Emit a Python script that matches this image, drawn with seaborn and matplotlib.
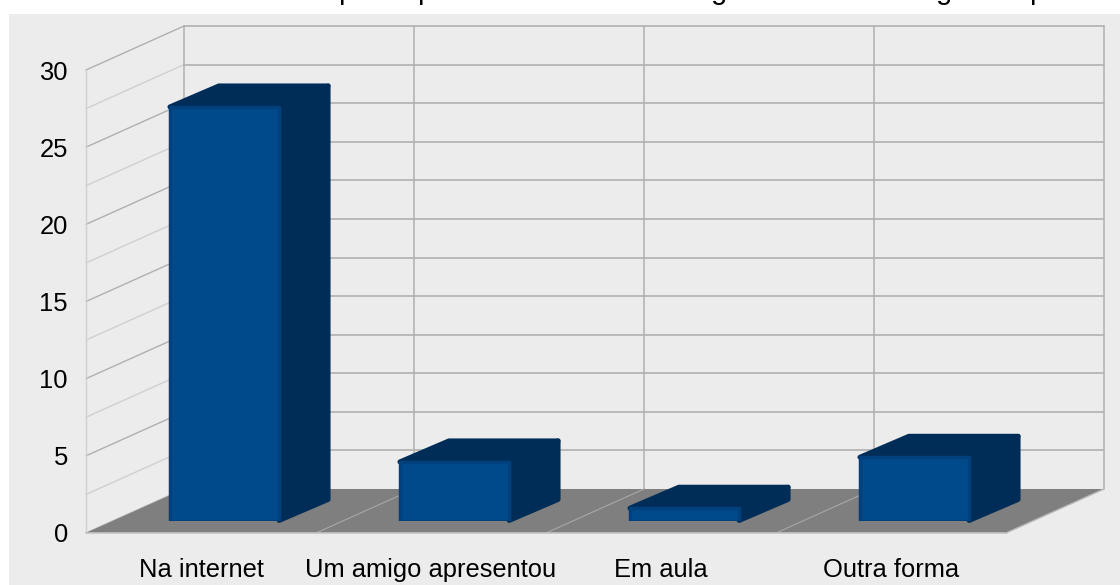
import matplotlib
matplotlib.use('Agg')
import matplotlib.pyplot as plt
from matplotlib.patches import Polygon, Rectangle
import pandas as pd
import seaborn as sns

##################################################################
categories = ['Na internet', 'Um amigo apresentou', 'Em aula', 'Outra forma']
values = [26.8, 3.8, 0.8, 4.1]
tick_values = [0, 5, 10, 15, 20, 25, 30]
grid_values = [0, 2.5, 5, 7.5, 10, 12.5, 15, 17.5, 20, 22.5, 25, 27.5, 30]
title_bits = ['p', 'p', 'g', 'g', 'p']   # only the descenders survive in the reference
title_bits_px = [338, 417, 711, 936, 1029]
##################################################################
W, H = 1120, 585
sns.set_theme(style='white')
plt.rcParams['font.family'] = ['Liberation Sans', 'DejaVu Sans']

front, side, edge = '#004A8C', '#002D58', '#00417D'
panel, floor_c = '#ECECEC', '#7F7F7F'
line_dark, line_light = '#B0B0B0', '#D0D0D0'
fz = 18.4

# front plane of the box, pixels
x0, x1, y0, y1 = 86, 1006, 533, 70
px_x = (x1 - x0)/4.0
px_y = (y0 - y1)/30.0
# depth of box and of the bars, in data units
box_dx, box_dy = 98/px_x, 44/px_y
bar_dx, bar_dy = 49/px_x, 21/px_y
shift_x, shift_y = 23.5, 12.5

fig = plt.figure(figsize=[W/100, H/100], dpi=100, facecolor='white')
fig.patches.append(Rectangle((9/W, 0), (W-9)/W, (H-14)/H, transform=fig.transFigure, fc=panel, ec='none', zorder=-1))

ax = fig.add_axes([x0/W, 1-y0/H, (x1-x0)/W, (y0-y1)/H])
ax.patch.set_visible(False)
ax.set_xlim(-0.5, 3.5)
ax.set_ylim(0, 30)
ax.set_xticks(range(4))
ax.set_xticklabels(categories, fontsize=fz, color='black')
ax.set_yticks(tick_values)
ax.set_yticklabels([str(v) for v in tick_values], fontsize=fz, color='black')
ax.tick_params(axis='both', length=0)
ax.tick_params(axis='x', pad=18)
ax.tick_params(axis='y', pad=13)
sns.despine(ax=ax, left=True, bottom=True)

# floor
L, R = -0.5, 3.5
ax.add_patch(Polygon([(L, 0), (R, 0), (R+box_dx, box_dy), (L+box_dx, box_dy)], fc=floor_c, ec='none', clip_on=False, zorder=1))
for i in range(1, 4):
    ax.plot([L+i, L+i+box_dx], [0, box_dy], color='#A8A8A8', lw=0.8, clip_on=False, zorder=2)
ax.plot([L, R], [0, 0], color='#C4C4C4', lw=1.2, clip_on=False, zorder=2)
ax.plot([R, R+box_dx], [0, box_dy], color='#B8B8B8', lw=1, clip_on=False, zorder=2)

# walls
for n, v in enumerate(grid_values):
    if v > 0:
        ax.plot([L+box_dx, R+box_dx], [v+box_dy, v+box_dy], color=line_dark, lw=1.2, clip_on=False, zorder=0)
    ax.plot([L, L+box_dx], [v, v+box_dy], color=line_dark if n % 2 == 0 else line_light, lw=1.0, clip_on=False, zorder=0)
for i in range(5):
    ax.plot([L+i+box_dx]*2, [box_dy, 30+box_dy], color=line_dark, lw=1.1, clip_on=False, zorder=0)
ax.plot([L, L], [0, 30], color=line_light, lw=1, clip_on=False, zorder=0)

# bars live on their own axes, pushed back into the box
ax_b = fig.add_axes([(x0+shift_x)/W, 1-(y0-shift_y)/H, (x1-x0)/W, (y0-y1)/H])
ax_b.patch.set_visible(False)
df = pd.DataFrame({'cat': categories, 'val': values})
sns.barplot(data=df, x='cat', y='val', ax=ax_b, color=front, saturation=1, width=0.475,
            edgecolor=edge, linewidth=2.5, zorder=3)
ax_b.set_xlim(-0.5, 3.5)
ax_b.set_ylim(0, 30)
ax_b.axis('off')

for bar in list(ax_b.patches):
    bar.set_joinstyle('round')
    l, r, h = bar.get_x(), bar.get_x()+bar.get_width(), bar.get_height()
    top = [(l, h), (r, h), (r+bar_dx, h+bar_dy), (l+bar_dx, h+bar_dy)]
    right = [(r, 0), (r+bar_dx, bar_dy), (r+bar_dx, h+bar_dy), (r, h)]
    for pts in (top, right):
        ax_b.add_patch(Polygon(pts, fc=side, ec=side, lw=3.5, joinstyle='round', clip_on=False, zorder=2))

for s, px in zip(title_bits, title_bits_px):
    fig.text(px/W, 1+1.0/H, s, fontsize=21, color='black', ha='left', va='baseline')

plt.savefig('out.png', dpi=100, facecolor='white')
